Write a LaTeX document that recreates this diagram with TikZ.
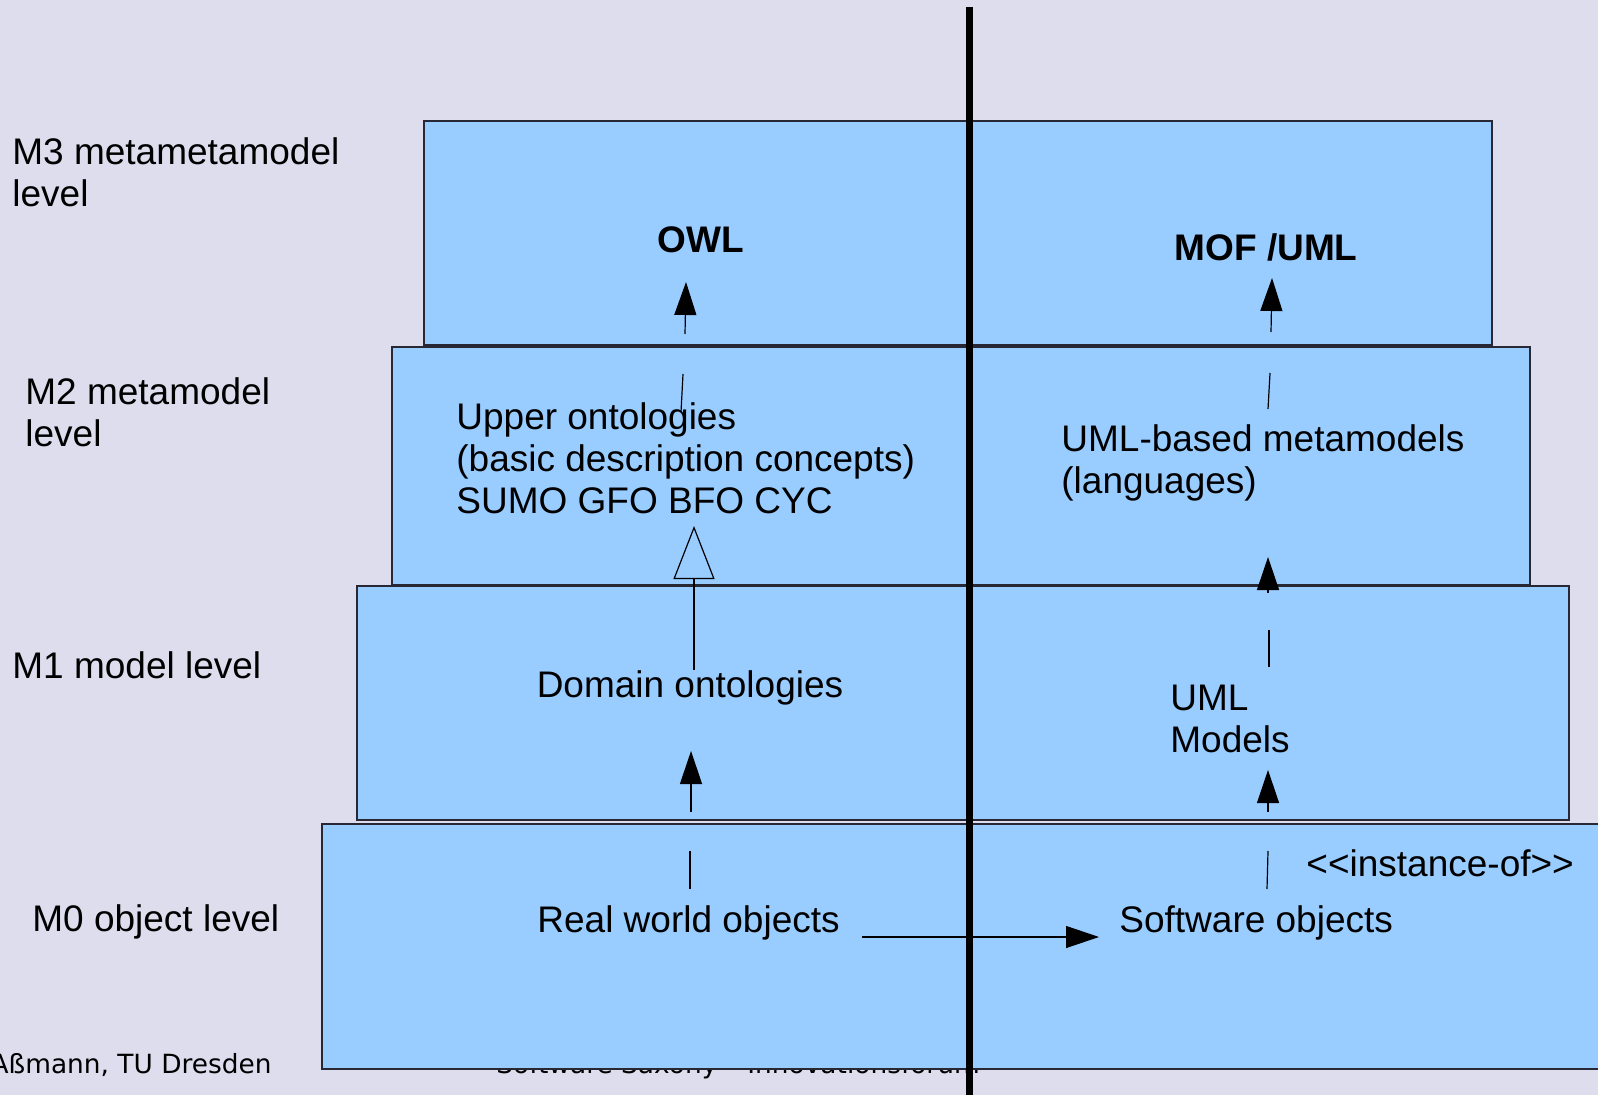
\documentclass[tikz,border=0pt]{standalone}
\usepackage{fontspec}
\setmainfont{Liberation Sans}
\newfontfamily\footfont{DejaVu Sans}
\definecolor{slidebg}{RGB}{221, 221, 238}
\definecolor{levelblue}{RGB}{153, 204, 255}
\definecolor{edgegrey}{RGB}{40, 40, 52}
\usetikzlibrary{arrows.meta}

\begin{document}
\begin{tikzpicture}[x=0.5pt, y=-0.5pt,
  levelbox/.style={draw=edgegrey, fill=levelblue, line width=0.8pt},
  lbl/.style={inner sep=0pt, font=\fontsize{18.5pt}{21pt}\selectfont, align=left, anchor=base west},
  footer/.style={inner sep=0pt, font=\footfont\fontsize{13.2pt}{15pt}\selectfont, anchor=base east},
  link/.style={line width=0.6pt},
  inst/.style={link, -{Triangle[length=16.5pt, width=11pt]}},
  spec/.style={link, -{Triangle[open, length=26.5pt, width=20.5pt]}}]

  % slide background
  \useasboundingbox (0,0) rectangle (1598,1095);
  \fill[slidebg] (0,0) rectangle (1598,1095);

  % footer, partly hidden by the M0 box
  \node[footer] (author) at (272,1073) {Aßmann, TU Dresden};
  \node[footer, anchor=base west] (event) at (496,1073) {Software Saxony – Innovationsforum};

  % the four levels
  \draw[levelbox] (424,121) rectangle (1492,345);
  \draw[levelbox] (392,347) rectangle (1530,585);
  \draw[levelbox] (357,586) rectangle (1569,820);
  \draw[levelbox] (322,824) rectangle (1610,1069);

  % level names (base = last line)
  \node[lbl] (m3name) at (12,207) {M3 metametamodel\\level};
  \node[lbl] (m2name) at (25,447) {M2 metamodel\\level};
  \node[lbl] (m1name) at (12,678) {M1 model level};
  \node[lbl] (m0name) at (32,931) {M0 object level};

  % ontology side
  \node[lbl, anchor=base, font=\fontsize{18.5pt}{21pt}\selectfont\bfseries] (owl) at (701,253) {OWL};
  \node[lbl] (upper) at (456,514) {Upper ontologies\\(basic description concepts)\\SUMO GFO BFO CYC};
  \node[lbl, anchor=base] (domain) at (690,697) {Domain ontologies};
  \node[lbl] (real) at (537,932) {Real world objects};

  % software side
  \node[lbl, anchor=base, font=\fontsize{18.5pt}{21pt}\selectfont\bfseries] (mof) at (1266,261) {MOF /UML};
  \node[lbl] (umlbased) at (1061,494) {UML-based metamodels\\(languages)};
  \node[lbl] (umlmodels) at (1170,752) {UML\\Models};
  \node[lbl] (software) at (1119,932) {Software objects};
  \node[lbl] (instof) at (1306,876) {<{}<instance-of>{}>};

  % connector pieces
  \coordinate (r0a) at (690,889);  \coordinate (r0b) at (690,851);
  \coordinate (r1a) at (691,812);  \coordinate (r1b) at (691,751);
  \coordinate (d1a) at (694,670);  \coordinate (d1b) at (694,526);
  \coordinate (u2a) at (681,412);  \coordinate (u2b) at (683,374);
  \coordinate (u3a) at (685,334);  \coordinate (u3b) at (686,282);
  \coordinate (s0a) at (1267,889); \coordinate (s0b) at (1268,851);
  \coordinate (s1a) at (1268,812); \coordinate (s1b) at (1268,770);
  \coordinate (m1a) at (1269,667); \coordinate (m1b) at (1269,630);
  \coordinate (m2a) at (1268,593); \coordinate (m2b) at (1268,557);
  \coordinate (b2a) at (1268,409); \coordinate (b2b) at (1270,373);
  \coordinate (b3a) at (1271,332); \coordinate (b3b) at (1272,278);
  \coordinate (hza) at (862,937);  \coordinate (hzb) at (1099,937);

  \draw[link] (r0a) -- (r0b);
  \draw[inst] (r1a) -- (r1b);
  \draw[spec] (d1a) -- (d1b);
  \draw[link] (u2a) -- (u2b);
  \draw[inst] (u3a) -- (u3b);

  \draw[link] (s0a) -- (s0b);
  \draw[inst] (s1a) -- (s1b);
  \draw[link] (m1a) -- (m1b);
  \draw[inst] (m2a) -- (m2b);
  \draw[link] (b2a) -- (b2b);
  \draw[inst] (b3a) -- (b3b);

  \draw[inst] (hza) -- (hzb);

  % divider between the two worlds
  \coordinate (divtop) at (969.5,7);
  \coordinate (divbot) at (969.5,1095);
  \draw[line width=3.5pt] (divtop) -- (divbot);
\end{tikzpicture}
\end{document}
